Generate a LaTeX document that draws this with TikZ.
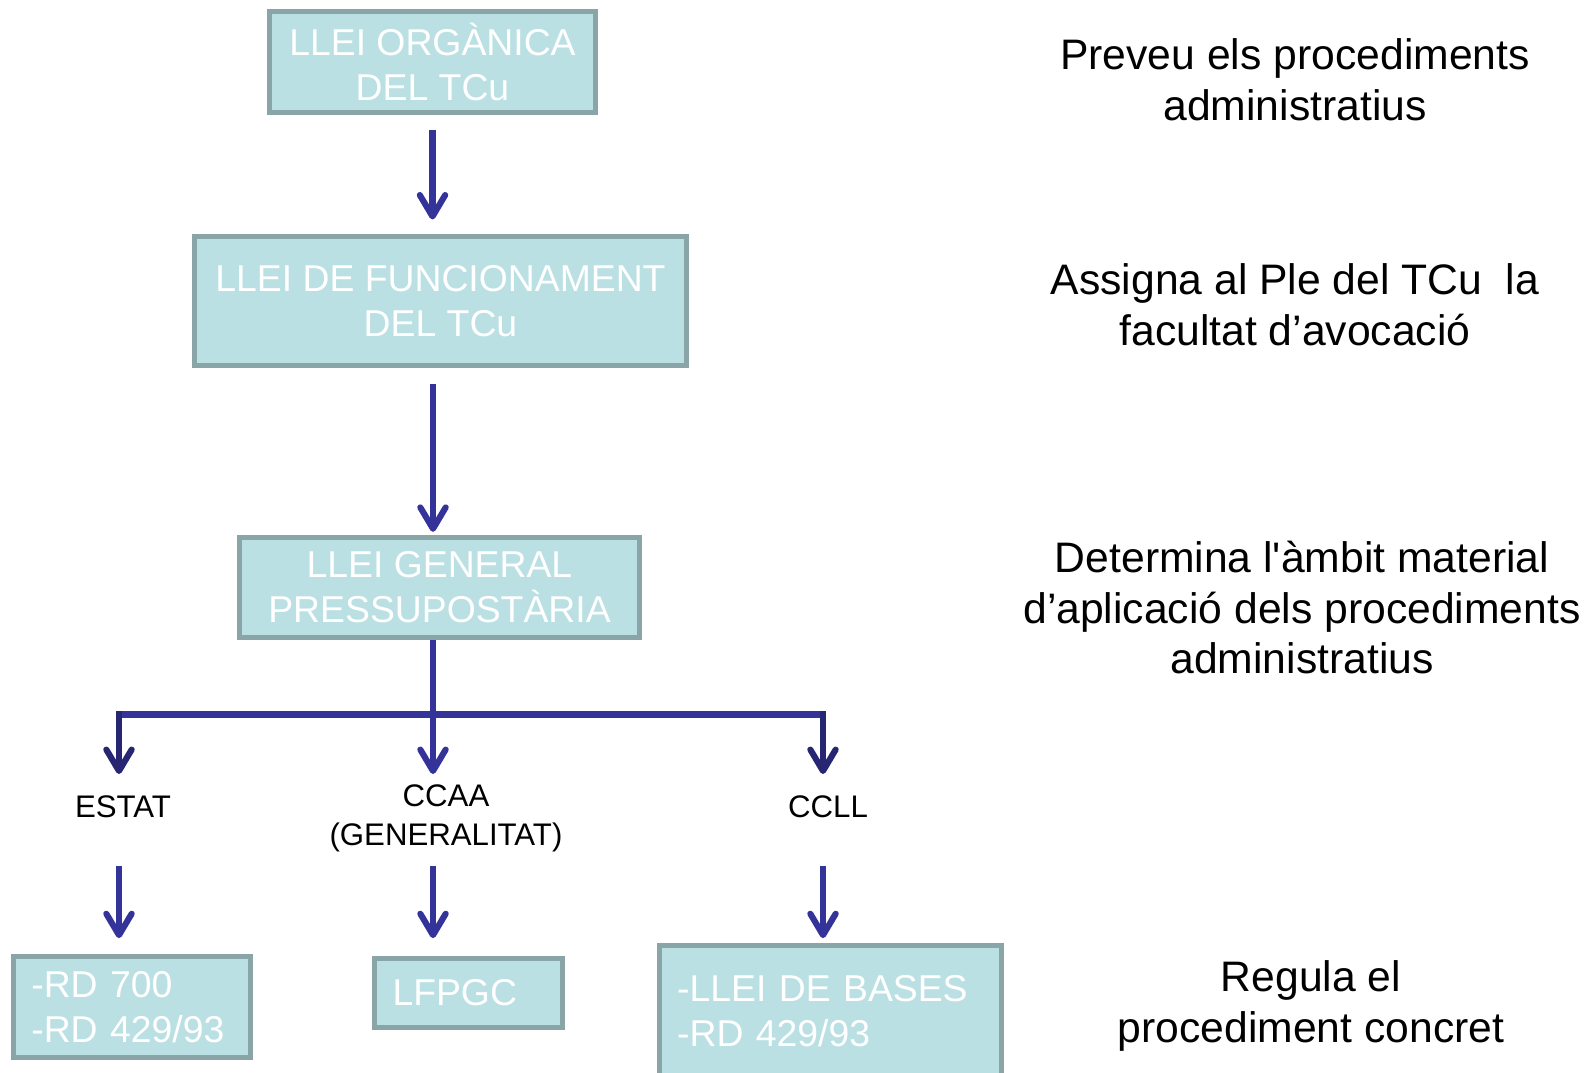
\documentclass[tikz,border=0pt]{standalone}
\usepackage{fontspec}
\setmainfont{Liberation Sans}
\usetikzlibrary{arrows.meta}
\definecolor{boxfill}{HTML}{BBE0E3}
\definecolor{boxline}{HTML}{8AA5A8}
\definecolor{arrblue}{HTML}{333399}
\definecolor{arrdark}{HTML}{262673}
\begin{document}
\begin{tikzpicture}[x=0.75pt,y=-0.75pt,
  box/.style={draw=boxline, fill=boxfill, line width=3.5pt, text=white,
    font=\fontsize{28}{33.75}\selectfont, inner sep=0pt, align=center},
  lbox/.style={box, align=left, inner xsep=13.3pt},
  side/.style={font=\fontsize{32}{38}\selectfont, align=center, inner sep=0pt},
  lab/.style={font=\fontsize{23.4}{29.5}\selectfont, align=center, inner sep=0pt},
  conn/.style={draw=arrblue, line width=4.6pt},
  arr/.style={conn, -{Straight Barb[length=16pt,width=19pt,round]}},
  darr/.style={arr, draw=arrdark}]
\useasboundingbox (0,0) rectangle (1593,1073);
\fill[white] (0,0) rectangle (1593,1073);

% boxes
\node[box, minimum width=326*0.75pt, minimum height=101*0.75pt] (b1) at (432.5,62)
  {LLEI ORGÀNICA\\DEL TCu};
\node[box, minimum width=492*0.75pt, minimum height=129*0.75pt] (b2) at (440.5,301)
  {LLEI DE FUNCIONAMENT\\DEL TCu};
\node[box, minimum width=400*0.75pt, minimum height=100*0.75pt] (b3) at (439.5,587.5)
  {LLEI GENERAL\\PRESSUPOSTÀRIA};
\node[lbox, text width=151pt, minimum height=101*0.75pt] (b4) at (132,1007)
  {-RD 700\\-RD 429/93};
\node[lbox, text width=114pt, minimum height=69*0.75pt] (b5) at (468.5,993)
  {LFPGC};
\node[lbox, text width=230pt, minimum height=132*0.75pt] (b6) at (830.5,1011.5)
  {-LLEI DE BASES\\-RD 429/93};

% side texts
\node[side] (s1) at (1295,79.5) {Preveu els procediments\\administratius};
\node[side] (s2) at (1295,304.5) {Assigna al Ple del TCu\ \ la\\facultat d’avocació};
\node[side] (s3) at (1302,607.5) {Determina l\textquotesingle àmbit material\\d’aplicació dels procediments\\administratius};
\node[side] (s4) at (1311,1006) {Regula el\\procediment concret};

% labels
\node[lab] (estat) at (123,807) {ESTAT};
\node[lab] (ccaa) at (446,818) {CCAA\\(GENERALITAT)};
\node[lab] (ccll) at (828,807) {CCLL};

% connector coordinates
\coordinate (br) at (433,714.5);
\coordinate (brl) at (119,714.5);
\coordinate (brr) at (823,714.5);
\coordinate (tl) at (119,774);
\coordinate (tm) at (433,774);
\coordinate (tr) at (823,774);
\coordinate (sl) at (119,866);
\coordinate (sm) at (433,866);
\coordinate (sr) at (823,866);

% main arrows
\draw[arr, shorten <=11.25pt, shorten >=11pt] (b1.south) -- (b1.south |- b2.north);
\draw[arr, shorten <=12pt, shorten >=2.5pt] (br |- b2.south) -- (br |- b3.north);
\draw[conn] (br |- b3.south) -- (br);
\draw[conn] ([xshift=-2.3pt]brl) -- ([xshift=2.3pt]brr);

% branches
\draw[darr] ([yshift=2.3pt]brl) -- (tl);
\draw[arr] (br) -- (tm);
\draw[darr] ([yshift=2.3pt]brr) -- (tr);

\draw[arr, shorten >=12pt] (sl) -- (sl |- b4.north);
\draw[arr, shorten >=13.5pt] (sm) -- (sm |- b5.north);
\draw[arr, shorten >=3.75pt] (sr) -- (sr |- b6.north);
\end{tikzpicture}
\end{document}
